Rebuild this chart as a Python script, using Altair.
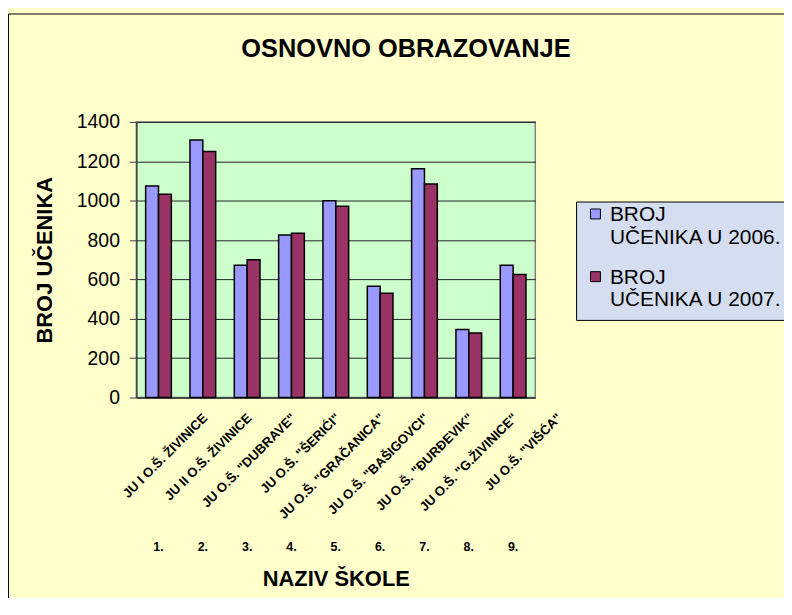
import altair as alt
import pandas as pd

schools = [
    'JU I O.Š. ŽIVINICE',
    'JU II O.Š. ŽIVINICE',
    'JU O.Š. "DUBRAVE"',
    'JU O.Š. "ŠERIĆI"',
    'JU O.Š. "GRAČANICA"',
    'JU O.Š. "BAŠIGOVCI"',
    'JU O.Š. "ĐURĐEVIK"',
    'JU O.Š. "G.ŽIVINICE"',
    'JU O.Š. "VIŠĆA"',
]
numbers = ['1.', '2.', '3.', '4.', '5.', '6.', '7.', '8.', '9.']
series_names = ['BROJ|UČENIKA U 2006.', 'BROJ|UČENIKA U 2007.']
values_2006 = [1075, 1308, 672, 825, 1000, 565, 1162, 345, 672]
values_2007 = [1033, 1250, 700, 835, 972, 530, 1085, 328, 625]
y_ticks = [0, 200, 400, 600, 800, 1000, 1200, 1400]

rows = []
for s, v6, v7 in zip(schools, values_2006, values_2007):
    rows.append({'school': s, 'series': series_names[0], 'value': v6})
    rows.append({'school': s, 'series': series_names[1], 'value': v7})
df = pd.DataFrame(rows)
df_num = pd.DataFrame({'school': schools, 'num': numbers})
df_frame = pd.DataFrame({'a': [0]})

FONT = 'Liberation Sans'
W, H = 401, 277

x_enc = alt.X(
    'school:N', sort=schools,
    scale=alt.Scale(paddingInner=0.42, paddingOuter=0.21),
    axis=alt.Axis(
        title='NAZIV ŠKOLE', titleFont=FONT, titleFontSize=22, titleFontWeight='bold',
        titleColor='black', titleY=182, titleBaseline='middle',
        labelAngle=-45, labelAlign='right', labelBaseline='middle',
        labelFont=FONT, labelFontSize=13.2, labelFontWeight='bold', labelColor='black',
        labelPadding=18, labelOffset=47, labelLimit=400, labelOverlap=False,
        ticks=False, tickSize=0, domainColor='#404040', domainWidth=1.5, grid=False,
    ),
)

frame = alt.Chart(df_frame).mark_rect(
    fill='#FFFFCC', fillOpacity=0, stroke='black', strokeWidth=1
).encode(
    x=alt.value(-128.5), x2=alt.value(700), y=alt.value(-108.5), y2=alt.value(600)
)

bars = alt.Chart(df).mark_bar(stroke='black', strokeWidth=1.5).encode(
    x=x_enc,
    xOffset=alt.XOffset('series:N', sort=series_names,
                        scale=alt.Scale(paddingInner=0, paddingOuter=0)),
    y=alt.Y(
        'value:Q', scale=alt.Scale(domain=[0, 1400], nice=False),
        axis=alt.Axis(
            values=y_ticks, format='d', title='BROJ UČENIKA', titleFont=FONT,
            titleFontSize=22, titleFontWeight='bold', titleColor='black', titleX=-92,
            titleBaseline='middle', titleAlign='center',
            labelFont=FONT, labelFontSize=19.5, labelColor='black', labelPadding=10,
            tickSize=7, tickColor='#404040', domainColor='#404040', domainWidth=1.5,
            gridColor='#222222', gridWidth=1,
        ),
    ),
    color=alt.Color(
        'series:N',
        scale=alt.Scale(domain=series_names, range=['#9999FF', '#993366']),
        legend=alt.Legend(
            title=None, orient='none', legendX=442, legendY=80,
            fillColor='#D5DEF0', strokeColor='black', padding=9,
            labelFont=FONT, labelFontSize=21, labelColor='black',
            labelExpr="split(datum.label, '|')", labelLimit=400,
            labelBaseline='alphabetic', labelOffset=4,
            symbolType='M-1,-2.4H1V-0.4H-1Z', symbolSize=100,
            symbolStrokeColor='black', symbolStrokeWidth=1, symbolOpacity=1,
            rowPadding=18,
        ),
    ),
)

nums = alt.Chart(df_num).mark_text(
    font=FONT, fontSize=12.5, fontWeight='bold', color='black', baseline='middle'
).encode(
    x=x_enc,
    y=alt.value(427),
    text='num:N',
)

chart = alt.layer(frame, bars, nums).properties(
    width=W, height=H,
    autosize=alt.AutoSizeParams(type='none'),
    padding={'left': 129, 'top': 113, 'right': 250, 'bottom': 200},
    background='#FFFFCC',
    title=alt.TitleParams(
        'OSNOVNO OBRAZOVANJE', font=FONT, fontSize=25.5, fontWeight='bold', color='black',
        anchor='middle', frame='group', dx=70.5, offset=-61.5, baseline='middle',
    ),
).configure_view(
    fill='#CCFFCC', stroke='#808080', strokeWidth=1.5
)

chart.save('out.html', embed_options={'renderer': 'svg', 'actions': False})
